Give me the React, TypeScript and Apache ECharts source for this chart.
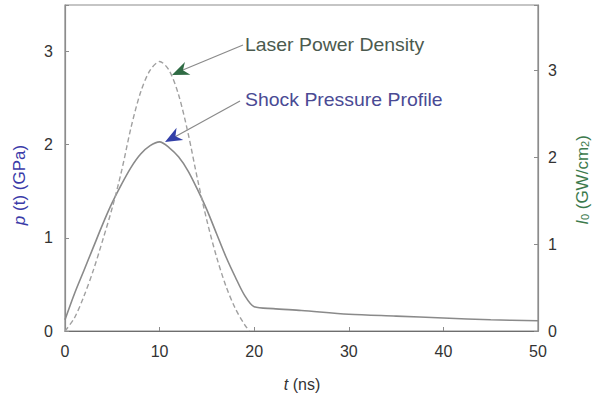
import React, { useEffect, useRef } from "react";
import * as echarts from "echarts";

const timeNs = [0, 1, 2, 3, 4, 5, 6, 7, 8, 9, 10, 11, 12, 13, 14, 15, 16, 17, 18, 19, 20, 22, 25, 30, 35, 40, 45, 50];
const shockPressureGPa = [0.12, 0.4, 0.65, 0.9, 1.15, 1.38, 1.58, 1.76, 1.9, 1.99, 2.03, 1.97, 1.87, 1.72, 1.52, 1.3, 1.05, 0.8, 0.58, 0.38, 0.26, 0.24, 0.22, 0.18, 0.16, 0.14, 0.12, 0.11];

const laserTimeNs = [0, 1, 2, 3, 4, 5, 6, 7, 8, 9, 10, 11, 12, 13, 14, 15, 16, 17, 18, 19, 19.5];
const laserPowerGW = [0, 0.15, 0.4, 0.7, 1.05, 1.42, 1.85, 2.35, 2.75, 3.0, 3.1, 3.0, 2.72, 2.28, 1.75, 1.27, 0.86, 0.52, 0.26, 0.07, 0];

const xTicks = [0, 10, 20, 30, 40, 50];

function arrowHead(tipX: number, tipY: number, fromX: number, fromY: number, len: number, half: number) {
  const dx = tipX - fromX;
  const dy = tipY - fromY;
  const d = Math.sqrt(dx * dx + dy * dy);
  const ux = dx / d;
  const uy = dy / d;
  const px = -uy;
  const py = ux;
  const bx = tipX - ux * len;
  const by = tipY - uy * len;
  const nx = tipX - ux * len * 0.7;
  const ny = tipY - uy * len * 0.7;
  return [
    [tipX, tipY],
    [bx + px * half, by + py * half],
    [nx, ny],
    [bx - px * half, by - py * half],
  ];
}

export default function App() {
  const ref = useRef<HTMLDivElement>(null);
  useEffect(() => {
    if (!ref.current) return;
    const chart = echarts.init(ref.current, null, { renderer: "svg" });
    const font = "Liberation Sans, Arial, sans-serif";
    const intLabel = (v: number) => (Math.abs(v - Math.round(v)) < 1e-9 ? String(v) : "");
    const greenFrom = [243, 45];
    const greenTip = [172, 75];
    const blueFrom = [240, 101];
    const blueTip = [165, 142];
    chart.setOption({
      animation: false,
      backgroundColor: "#ffffff",
      grid: { left: 65, right: 54, top: 5, bottom: 63, show: true, borderColor: "#8c8c8c", borderWidth: 1.2 },
      xAxis: {
        type: "value",
        min: 0,
        max: 50,
        interval: 10,
        axisLine: { lineStyle: { color: "#6e6e6e", width: 1.2 } },
        axisTick: { inside: true, length: 4, lineStyle: { color: "#8c8c8c" } },
        axisLabel: { color: "#333", fontSize: 16, fontFamily: font, margin: 12, formatter: (v: number) => (xTicks.includes(v) ? String(v) : "") },
        splitLine: { show: false },
      },
      yAxis: [
        {
          type: "value",
          min: 0,
          max: 3.5,
          interval: 1,
          axisLine: { show: true, lineStyle: { color: "#8c8c8c", width: 1.2 } },
          axisTick: { inside: true, length: 4, lineStyle: { color: "#8c8c8c" } },
          axisLabel: { color: "#333", fontSize: 16, fontFamily: font, margin: 12, formatter: intLabel },
          splitLine: { show: false },
        },
        {
          type: "value",
          min: 0,
          max: 3.75,
          interval: 1,
          position: "right",
          axisLine: { show: true, lineStyle: { color: "#8c8c8c", width: 1.2 } },
          axisTick: { inside: true, length: 4, lineStyle: { color: "#8c8c8c" } },
          axisLabel: { color: "#333", fontSize: 16, fontFamily: font, margin: 10, formatter: intLabel },
          splitLine: { show: false },
        },
      ],
      series: [
        {
          name: "Shock Pressure Profile",
          type: "line",
          yAxisIndex: 0,
          showSymbol: false,
          smooth: 0.3,
          lineStyle: { color: "#8a8a8a", width: 1.6 },
          data: timeNs.map((t, i) => [t, shockPressureGPa[i]]),
        },
        {
          name: "Laser Power Density",
          type: "line",
          yAxisIndex: 1,
          showSymbol: false,
          smooth: 0.3,
          lineStyle: { color: "#a0a0a0", width: 1.4, type: [5, 3] },
          data: laserTimeNs.map((t, i) => [t, laserPowerGW[i]]),
        },
      ],
      graphic: [
        {
          type: "line",
          shape: { x1: greenFrom[0], y1: greenFrom[1], x2: greenTip[0] + 6, y2: greenTip[1] - 3 },
          style: { stroke: "#8a8a8a", lineWidth: 1.2 },
        },
        {
          type: "polygon",
          shape: { points: arrowHead(greenTip[0], greenTip[1], greenFrom[0], greenFrom[1], 17, 7) },
          style: { fill: "#2f6b44" },
        },
        {
          type: "line",
          shape: { x1: blueFrom[0], y1: blueFrom[1], x2: blueTip[0] + 6, y2: blueTip[1] - 3 },
          style: { stroke: "#8a8a8a", lineWidth: 1.2 },
        },
        {
          type: "polygon",
          shape: { points: arrowHead(blueTip[0], blueTip[1], blueFrom[0], blueFrom[1], 17, 7) },
          style: { fill: "#3340a8" },
        },
        {
          type: "text",
          x: 245,
          y: 45,
          scaleX: 1.08,
          style: { text: "Laser Power Density", fill: "#4b5a4e", font: `18px ${font}`, textAlign: "left", textVerticalAlign: "middle" },
        },
        {
          type: "text",
          x: 245,
          y: 100,
          scaleX: 1.08,
          style: { text: "Shock Pressure Profile", fill: "#4a4a94", font: `18px ${font}`, textAlign: "left", textVerticalAlign: "middle" },
        },
        {
          type: "text",
          x: 19,
          y: 185,
          rotation: Math.PI / 2,
          style: {
            text: "{i|p} (t) (GPa)",
            fill: "#3a3aa8",
            font: `17px ${font}`,
            textAlign: "center",
            textVerticalAlign: "middle",
            rich: { i: { fontStyle: "italic", fill: "#3a3aa8", fontSize: 17, fontFamily: font } },
          },
        },
        {
          type: "text",
          x: 582,
          y: 180,
          rotation: Math.PI / 2,
          style: {
            text: "{i|I}{s|0} (GW/cm{s|2})",
            fill: "#3c7a4c",
            font: `17px ${font}`,
            textAlign: "center",
            textVerticalAlign: "middle",
            rich: {
              i: { fontStyle: "italic", fill: "#3c7a4c", fontSize: 17, fontFamily: font },
              s: { fill: "#3c7a4c", fontSize: 11, fontFamily: font, verticalAlign: "bottom" },
            },
          },
        },
        {
          type: "text",
          x: 302,
          y: 384,
          style: {
            text: "{i|t} (ns)",
            fill: "#333",
            font: `16px ${font}`,
            textAlign: "center",
            textVerticalAlign: "middle",
            rich: { i: { fontStyle: "italic", fill: "#333", fontSize: 16, fontFamily: font } },
          },
        },
      ],
    });
    return () => chart.dispose();
  }, []);
  return <div ref={ref} style={{ position: "fixed", left: 0, top: 0, width: 592, height: 394 }} />;
}
